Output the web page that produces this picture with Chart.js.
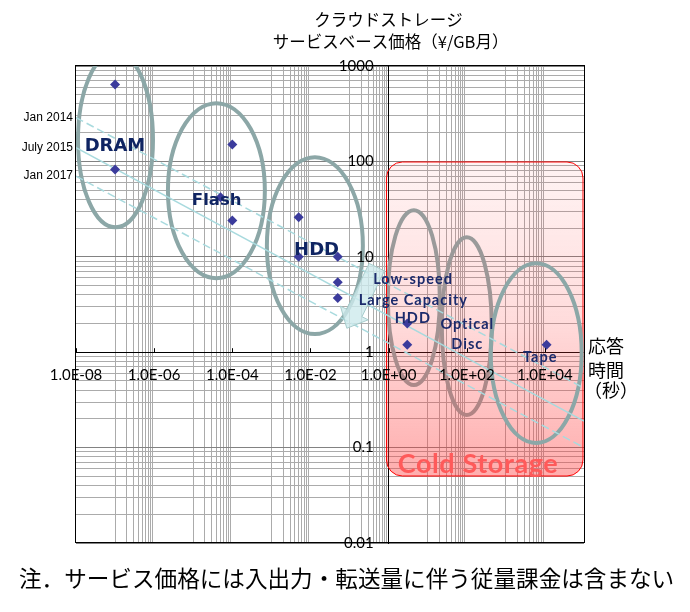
<!DOCTYPE html>
<html lang="ja">
<head>
<meta charset="utf-8">
<title>クラウドストレージ 価格と応答時間</title>
<script src="https://cdn.jsdelivr.net/npm/chart.js@4.4.1/dist/chart.umd.min.js"></script>
<style>
  html, body { margin: 0; padding: 0; background: #fff; }
  #box { position: relative; width: 690px; height: 612px; }
</style>
</head>
<body>
<div id="box"><canvas id="storageChart"></canvas></div>
<script>
// ---- values ----
const techNames = ['DRAM', 'DRAM', 'Flash', 'Flash', 'Flash', 'HDD', 'HDD', 'HDD', 'HDD', 'HDD',
  'Low-speed HDD', 'Low-speed HDD', 'Tape'];
const responseSec = [1e-7, 1e-7, 1e-4, 5e-5, 1e-4, 5e-3, 5e-3, 5e-2, 5e-2, 5e-2, 3, 3, 1.1e4];
const priceYenPerGB = [640, 82, 150, 42, 24, 26, 10, 10, 5.4, 3.7, 2.0, 1.2, 1.2];

const trendNames = ['Jan 2014', 'July 2015', 'Jan 2017'];
const trendX = [1e-8, 1e5];
const trendJan2014 = [288, 0.42];
const trendJul2015 = [139, 0.19];
const trendJan2017 = [70, 0.10];

const xLabelExps = [-8, -6, -4, -2, 0, 2, 4];
const yLabelValues = [0.01, 0.1, 1, 10, 100, 1000];

// ---- decoration, in log10 data units ----
const NAVY = '#0f2462';
const NAVY2 = '#1b2a6b';
const groups = [
  { lx: -6.99, ly: 2.227, rx: 0.96, ry: 0.917, under: false },
  { lx: -4.407, ly: 1.693, rx: 1.24, ry: 0.917, under: false },
  { lx: -1.887, ly: 1.117, rx: 1.228, ry: 0.927, under: false },
  { lx: 0.645, ly: 0.572, rx: 0.665, ry: 0.917, under: true },
  { lx: 2.0, ly: 0.273, rx: 0.639, ry: 0.932, under: true },
  { lx: 3.777, ly: -0.01, rx: 1.164, ry: 0.943, under: false }
];
const coldBox = { lx0: -0.055, lx1: 5, ly0: -1.298, ly1: 1.994 };
const arrow = { tail: [-0.302, 0.891], tip: [-1.069, 0.251] };
const tags = [
  { text: 'DRAM', lx: -7.003, ly: 2.110, font: 'bold 18px "DejaVu Sans"', color: NAVY },
  { text: 'Flash', lx: -4.40, ly: 1.541, font: 'bold 16.5px "DejaVu Sans"', color: NAVY },
  { text: 'HDD', lx: -1.844, ly: 1.017, font: 'bold 18px "DejaVu Sans"', color: NAVY },
  { text: 'Low-speed', lx: 0.611, ly: 0.713, font: 'bold 14.5px Lato', color: NAVY2, sp: 1 },
  { text: 'Large Capacity', lx: 0.619, ly: 0.493, font: 'bold 14.5px Lato', color: NAVY2, sp: 1 },
  { text: 'HDD', lx: 0.606, ly: 0.305, font: 'bold 14.5px Lato', color: NAVY2, sp: 1 },
  { text: 'Optical', lx: 2.0, ly: 0.242, font: 'bold 14.5px Lato', color: NAVY2, sp: 1 },
  { text: 'Disc', lx: 2.0, ly: 0.032, font: 'bold 14.5px Lato', color: NAVY2, sp: 1 },
  { text: 'Tape', lx: 3.867, ly: -0.104, font: 'bold 14.5px Lato', color: NAVY2, sp: 1 },
  { text: 'Cold Storage', lx: 2.281, ly: -1.267, font: 'bold 27px Lato', color: '#ff5a5a', sp: 0.6 }
];

function expLabel(v) {
  const e = Math.round(Math.log10(v));
  return '1.0E' + (e < 0 ? '-' : '+') + String(Math.abs(e)).padStart(2, '0');
}
function isDecade(v) {
  const l = Math.log10(v);
  return Math.abs(l - Math.round(l)) < 1e-9;
}

// excel style grid: labels every 2 decades, minor lines only in odd decades
function xTicks() {
  const t = xLabelExps.map(e => ({ value: Math.pow(10, e), major: true }));
  for (let k = -7; k <= 3; k += 2) {
    for (let m = 1; m <= 9; m++) t.push({ value: m * Math.pow(10, k), major: false });
  }
  return t.sort((a, b) => a.value - b.value);
}
function yTicks() {
  const t = [];
  for (let i = 0; i < yLabelValues.length - 1; i++) {
    for (let m = 1; m <= 9; m++) t.push({ value: m * yLabelValues[i], major: m === 1 });
  }
  t.push({ value: yLabelValues[yLabelValues.length - 1], major: true });
  return t;
}

function proj(chart) {
  const xs = chart.scales.x, ys = chart.scales.y;
  const x = l => xs.getPixelForValue(Math.pow(10, l));
  const y = l => ys.getPixelForValue(Math.pow(10, l));
  return { x, y, dx: x(1) - x(0), dy: y(0) - y(1) };
}
function ring(ctx, P, g) {
  ctx.beginPath();
  ctx.ellipse(P.x(g.lx), P.y(g.ly), g.rx * P.dx, g.ry * P.dy, 0, 0, Math.PI * 2);
  ctx.strokeStyle = '#8ca7a7';
  ctx.lineWidth = 4;
  ctx.stroke();
}

const deco = {
  id: 'deco',
  beforeDatasetsDraw(chart) {
    const { ctx, chartArea: a } = chart;
    const P = proj(chart);
    ctx.save();
    ctx.beginPath();
    ctx.rect(a.left, a.top, a.width, a.height);
    ctx.clip();
    groups.filter(g => g.under).forEach(g => ring(ctx, P, g));

    const x0 = P.x(coldBox.lx0), x1 = P.x(coldBox.lx1) - 1;
    const y0 = P.y(coldBox.ly1), y1 = P.y(coldBox.ly0);
    const grad = ctx.createLinearGradient(0, y0, 0, y1);
    grad.addColorStop(0, 'rgba(255,60,60,0.06)');
    grad.addColorStop(0.5, 'rgba(255,60,60,0.18)');
    grad.addColorStop(1, 'rgba(255,60,60,0.42)');
    ctx.beginPath();
    ctx.roundRect(x0, y0, x1 - x0, y1 - y0, 16);
    ctx.fillStyle = grad;
    ctx.fill();
    ctx.strokeStyle = '#ff0000';
    ctx.lineWidth = 1;
    ctx.stroke();

    groups.filter(g => !g.under).forEach(g => ring(ctx, P, g));
    ctx.restore();
  },
  afterDatasetsDraw(chart) {
    const { ctx, chartArea: a } = chart;
    const P = proj(chart);
    ctx.save();

    // arrow from HDD towards the low speed group
    const tx = P.x(arrow.tail[0]), ty = P.y(arrow.tail[1]);
    const px = P.x(arrow.tip[0]), py = P.y(arrow.tip[1]);
    const len = Math.hypot(px - tx, py - ty);
    const ux = (px - tx) / len, uy = (py - ty) / len;
    const nx = -uy, ny = ux;
    const sh = 8.5, hh = 15.5, hl = 17;
    const bx = px - ux * hl, by = py - uy * hl;
    ctx.beginPath();
    ctx.moveTo(tx + nx * sh, ty + ny * sh);
    ctx.lineTo(bx + nx * sh, by + ny * sh);
    ctx.lineTo(bx + nx * hh, by + ny * hh);
    ctx.lineTo(px, py);
    ctx.lineTo(bx - nx * hh, by - ny * hh);
    ctx.lineTo(bx - nx * sh, by - ny * sh);
    ctx.lineTo(tx - nx * sh, ty - ny * sh);
    ctx.closePath();
    ctx.fillStyle = 'rgba(205,234,236,0.8)';
    ctx.fill();
    ctx.strokeStyle = '#a6cccc';
    ctx.lineWidth = 1;
    ctx.stroke();

    // plot frame
    ctx.strokeStyle = '#000';
    ctx.lineWidth = 1;
    ctx.strokeRect(a.left - 0.5, a.top - 0.5, a.width + 1, a.height);

    // small ticks on the x axis
    const axisY = chart.scales.y.getPixelForValue(1);
    ctx.beginPath();
    xLabelExps.forEach(e => {
      const xx = Math.round(P.x(e)) + 0.5;
      ctx.moveTo(xx, axisY);
      ctx.lineTo(xx, axisY - 4);
    });
    ctx.stroke();

    // group labels
    ctx.textAlign = 'center';
    ctx.textBaseline = 'alphabetic';
    tags.forEach(t => {
      ctx.font = t.font;
      ctx.letterSpacing = (t.sp || 0) + 'px';
      ctx.fillStyle = t.color;
      ctx.fillText(t.text, P.x(t.lx) + (t.sp || 0) / 2, P.y(t.ly));
    });
    ctx.letterSpacing = '0px';

    // trend line names at the left
    ctx.font = '12px "Liberation Sans", Arial, sans-serif';
    ctx.fillStyle = '#000';
    ctx.textAlign = 'right';
    ctx.textBaseline = 'middle';
    [trendJan2014, trendJul2015, trendJan2017].forEach((s, i) => {
      ctx.fillText(trendNames[i], a.left - 3, chart.scales.y.getPixelForValue(s[0]));
    });

    // axis titles and note
    const jp = '"Noto Sans CJK JP", "Noto Sans", sans-serif';
    const cx = P.x(0);
    ctx.textBaseline = 'alphabetic';
    ctx.textAlign = 'center';
    ctx.font = '16.5px ' + jp;
    ctx.fillText('クラウドストレージ', cx, 26);
    ctx.fillText('サービスベース価格（¥/GB月）', cx + 2, 48);
    ctx.textAlign = 'left';
    ctx.font = '18px ' + jp;
    ctx.fillText('応答', 588, 353);
    ctx.fillText('時間', 588, 377);
    ctx.fillText('（秒）', 584, 397);
    ctx.font = '22.6px ' + jp;
    ctx.fillText('注．サービス価格には入出力・転送量に伴う従量課金は含まない', 19, 587);
    ctx.restore();
  }
};

function trendSet(name, vals, dashed) {
  return {
    label: name,
    data: trendX.map((x, i) => ({ x: x, y: vals[i] })),
    showLine: true,
    borderColor: '#a8dade',
    borderWidth: 1.5,
    borderDash: dashed ? [8, 4] : [],
    pointRadius: 0,
    fill: false
  };
}

new Chart(document.getElementById('storageChart'), {
  type: 'scatter',
  data: {
    datasets: [
      {
        label: 'storage',
        data: responseSec.map((x, i) => ({ x: x, y: priceYenPerGB[i], name: techNames[i] })),
        pointStyle: 'rectRot',
        pointRadius: 5,
        pointBackgroundColor: '#3b3b9c',
        pointBorderColor: '#3b3b9c',
        pointBorderWidth: 0
      },
      trendSet(trendNames[0], trendJan2014, true),
      trendSet(trendNames[1], trendJul2015, false),
      trendSet(trendNames[2], trendJan2017, true)
    ]
  },
  options: {
    responsive: true,
    maintainAspectRatio: false,
    animation: false,
    layout: { padding: { left: 76, right: 106, top: 66, bottom: 69 } },
    plugins: { legend: { display: false }, tooltip: { enabled: false } },
    scales: {
      x: {
        type: 'logarithmic',
        position: { y: 1 },
        min: 1e-8,
        max: 1e5,
        afterBuildTicks: s => { s.ticks = xTicks(); },
        grid: {
          drawTicks: false,
          color: c => (c.tick && c.tick.major) ? 'rgba(0,0,0,0)' : '#ababab',
          lineWidth: 1
        },
        border: { color: '#000', width: 1 },
        ticks: {
          autoSkip: false,
          maxRotation: 0,
          minRotation: 0,
          padding: 14,
          z: 1,
          color: '#000',
          font: { family: 'Lato', size: 15 },
          callback: (v) => xLabelExps.some(e => Math.abs(Math.log10(v) - e) < 1e-9) ? expLabel(v) : ''
        }
      },
      y: {
        type: 'logarithmic',
        position: { x: 1 },
        min: 0.01,
        max: 1000,
        afterBuildTicks: s => { s.ticks = yTicks(); },
        grid: {
          drawTicks: false,
          color: c => (c.tick && c.tick.major) ? '#828282' : '#ababab',
          lineWidth: 1
        },
        border: { color: '#000', width: 1 },
        ticks: {
          autoSkip: false,
          padding: 14,
          z: 1,
          color: '#000',
          font: { family: 'Lato', size: 15 },
          // labels sit right on the axis for a positioned axis, so pad with spaces
          callback: (v) => isDecade(v) ? String(v) + '\u2002\u2002' : ''
        }
      }
    }
  },
  plugins: [deco]
});
</script>
</body>
</html>
